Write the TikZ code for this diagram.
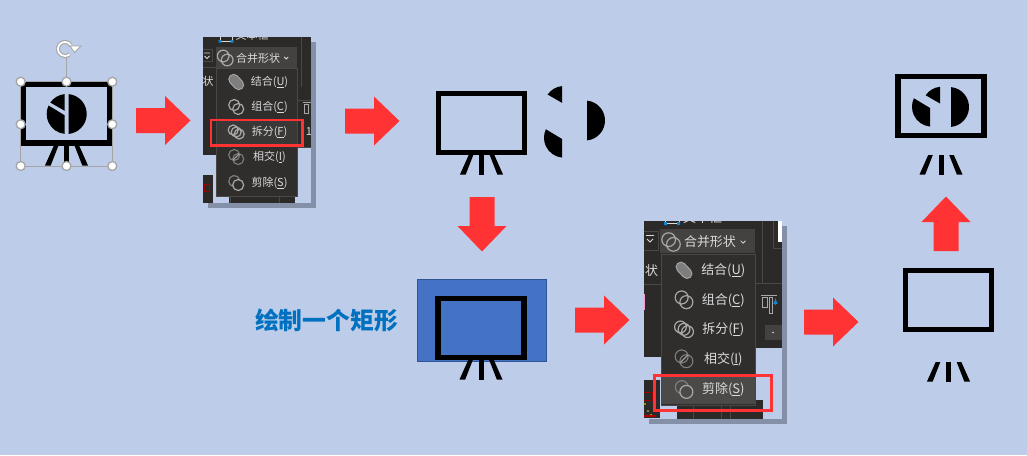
\documentclass[tikz,border=0pt]{standalone}
\usepackage{fontspec}
\usepackage{xcolor}
\newfontfamily\cjkfont{Noto Sans CJK SC}
\definecolor{slideblue}{HTML}{BDCDE9}
\definecolor{shadowgray}{HTML}{848FA8}
\definecolor{arrowred}{HTML}{FF3333}
\definecolor{shapeblue}{HTML}{4472C4}
\definecolor{shapeline}{HTML}{2F5597}
\definecolor{titleblue}{HTML}{0070C0}
\definecolor{uidark}{HTML}{2C2A29}
\definecolor{uipanel}{HTML}{302E2D}
\definecolor{uiedge}{HTML}{4A4846}
\definecolor{uihead}{HTML}{444241}
\definecolor{uirowa}{HTML}{3A3837}
\definecolor{uirowb}{HTML}{4C4A49}
\definecolor{uitext}{HTML}{DADADA}
\definecolor{uiicon}{HTML}{A8A8A8}
\definecolor{uidim}{HTML}{7E7E7E}
\definecolor{handlegray}{HTML}{A5A5A5}

\begin{document}
\begin{tikzpicture}[
  x=1pt, y=-1pt,
  every node/.style={inner sep=0pt, outer sep=0pt},
  menutext/.style={font=\cjkfont\fontsize{11}{11}\selectfont, text=uitext},
  sidetext/.style={menutext, anchor=east},
  titletext/.style={font=\cjkfont\bfseries\fontsize{23.8}{24}\selectfont, text=titleblue},
  handle/.style={circle, draw=handlegray, fill=white, line width=1.3pt, minimum size=9pt},
  redbox/.style={draw=arrowred, line width=2.5pt},
  ring/.style={draw=uiicon, line width=1.2pt},
  uiline/.style={draw=uiedge, line width=0.8pt},
  pics/easelframe/.style={code={
    \draw[line width=5.3pt] (-43,2.65) rectangle (43,61.4);
  }},
  pics/easellegs/.style={code={
    \fill (-2.5,0) rectangle (2.5,19.5);
    \fill (-12.8,0) -- (-8.2,0) -- (-15.8,19.5) -- (-21.5,19.5) -- cycle;
    \fill (12.8,0) -- (8.2,0) -- (15.8,19.5) -- (21.5,19.5) -- cycle;
  }},
  pics/pieright/.style={code={
    \fill (2,-19.9) arc[start angle=84.3, end angle=-84.3, radius=20pt] -- cycle;
  }},
  pics/pietop/.style={code={
    \fill (-2,-3.2) -- (-2,-19.9) arc[start angle=95.7, end angle=145, radius=20pt] -- cycle;
  }},
  pics/piebottom/.style={code={
    \fill (-2,1.3) -- (-2,19.9) arc[start angle=264.3, end angle=155, radius=20pt] -- cycle;
  }},
  pics/redarrow/.style={code={
    \fill[arrowred] (0,-12.5) -- (29,-12.5) -- (29,-24.5) -- (54.5,0) -- (29,24.5) -- (29,12.5) -- (0,12.5) -- cycle;
  }},
  pics/shapemenu/.style 2 args={code={
    \fill[uihead] (-1,-11.3) rectangle (80,9.5);
    \draw[ring] (6.5,-2) circle[radius=5.8pt] (10.5,2) circle[radius=5.8pt];
    \node[menutext] (head) at (41.5,0) {合并形状};
    \draw[uitext, line width=0.8pt] (67.5,-1) -- (69.5,1) -- (71.5,-1);
    \filldraw[fill=uipanel, draw=uiedge, line width=0.6pt] (0,10) rectangle (80.3,138.7);
    \fill[#2] (0.5,#1-12) rectangle (79.8,#1+12.5);
    \foreach \rowy/\rowname in {24/结合(\underline{U}), 49/组合(\underline{C}), 74/拆分(\underline{F}), 99/相交(\underline{I}), 125/剪除(\underline{S})}
      \node[menutext] at (52.8,\rowy) {\rowname};
    % join
    \draw[uiicon, line width=10.8pt, line cap=round] (16.9,21.2) -- (22.1,26.8);
    \draw[uidim, line width=8.6pt, line cap=round] (16.9,21.2) -- (22.1,26.8);
    % combine
    \draw[ring] (17.5,47) circle[radius=5.5pt] (21.5,51) circle[radius=5.5pt];
    % fragment
    \draw[ring] (16.5,72) circle[radius=5pt] (19.5,74) circle[radius=5pt] (22.5,76) circle[radius=5pt];
    % intersect
    \draw[draw=uidim, line width=1.1pt] (17.5,97) circle[radius=5.5pt] (21.5,101) circle[radius=5.5pt];
    \draw[uiicon, line width=1.1pt] (16.5,102) -- (22.5,96);
    % subtract
    \draw[draw=uidim, line width=1.2pt] (23,122.1) arc[start angle=9.6, end angle=254.4, radius=5.5pt];
    \draw[ring] (21.5,127) circle[radius=5.5pt];
  }}
]
  \useasboundingbox (0,0) rectangle (1027,455);
  \fill[slideblue] (0,0) rectangle (1027,455);

  % selected icon
  \pic at (66.5,81.7) {easelframe};
  \pic at (66.5,146) {easellegs};
  \pic at (66.7,114) {pieright};
  \pic at (66.7,114) {pietop};
  \pic at (66.7,114) {piebottom};
  \draw[draw=handlegray, line width=0.8pt] (20.7,81.7) rectangle (112.3,166);
  \coordinate (rotbase) at (66.5,58);
  \node[handle] (htop) at (66.5,81.7) {};
  \draw[draw=handlegray, line width=0.8pt] (rotbase) -- (htop);
  \foreach \hname/\hx/\hy in {hnw/20.7/81.7, hne/112.3/81.7, hw/20.7/124.3, he/112.3/124.3, hsw/20.7/166, hs/66.5/166, hse/112.3/166}
    \node[handle] (\hname) at (\hx,\hy) {};
  \draw[handlegray, line width=4pt] (71,45.5) arc[start angle=30, end angle=310, radius=7pt];
  \draw[white, line width=1.8pt] (71,45.5) arc[start angle=30, end angle=310, radius=7pt];
  \filldraw[fill=white, draw=handlegray, line width=0.8pt] (70,46) -- (81,46) -- (74.5,52.5) -- cycle;

  \pic at (136,120.5) {redarrow};

  % first menu
  \fill[shadowgray] (208,42) rectangle (316,208);
  \fill[slideblue] (203,37) rectangle (311,203);
  \begin{scope}
    \clip (203,37) rectangle (311,203);
    \fill[uidark] (203,37) rectangle (311,147);
    \fill[uidark] (203,147) rectangle (216,155);
    \fill[uidark] (203,175) rectangle (213,203);
    \fill[uidark] (229,190) rectangle (295,203);
    \draw[red!60!black, line width=0.6pt] (204,184) rectangle (209,191);
    \draw[uiline] (301.7,37) -- (301.7,87);
    \draw[uiline] (297,100.7) -- (311,100.7);
    \draw[uiline] (203,67.5) -- (216,67.5);
    \draw[uiline] (296,147) -- (311,147);
    \draw[draw=uiicon, line width=0.8pt] (303,102.5) -- (311,102.5) (304,104.5) rectangle (308,113);
    \draw[uiline] (203,49) -- (212,49) -- (212,61) -- (203,61);
    \draw[uitext, line width=0.8pt] (204,53) -- (210,53) (204.5,56) -- (207,58.5) -- (209.5,56);
    \draw[draw=uitext, line width=0.8pt] (220,36) rectangle (232,41.5);
    \fill[cyan!70!blue] (218.5,40) rectangle (221.5,42.5) (230.5,40) rectangle (233.5,42.5);
    \node[menutext] (textboxa) at (252,35.5) {文本框};
    \node[sidetext] (sidea) at (213.5,81) {形状};
    \node[menutext] (onea) at (309,132) {1};
    \draw[uiline] (230,197) -- (230,203) (279,197) -- (279,203);
  \end{scope}
  \pic[transform shape] (menua) at (216.7,58) {shapemenu={74}{uirowa}};
  \draw[redbox] (211,120) rectangle (302.5,145.5);

  \pic at (345,121) {redarrow};

  % pulled apart
  \pic at (481.5,91) {easelframe};
  \pic at (481.5,155) {easellegs};
  \pic at (564,106) {pietop};
  \pic at (564,137.7) {piebottom};
  \pic at (585,120.5) {pieright};

  \pic[rotate=-90] at (482,197) {redarrow};

  % drawn rectangle
  \node[titletext] (title) at (326.5,320.5) {绘制一个矩形};
  \filldraw[fill=shapeblue, draw=shapeline, line width=0.7pt] (417.5,279.5) rectangle (546.5,361);
  \pic at (481,296) {easelframe};
  \pic at (481,360) {easellegs};

  \pic at (575,320) {redarrow};

  % second menu
  \fill[shadowgray] (649,226) rectangle (787,424);
  \fill[slideblue] (644,221) rectangle (782,419);
  \begin{scope}
    \clip (644,221) rectangle (782,419);
    \fill[uidark] (644,221) rectangle (782,348);
    \fill[uidark] (644,348) rectangle (661,357);
    \fill[uidark] (644,380) rectangle (660,418);
    \fill[uidark] (677,400) rectangle (763,419);
    \fill[white] (777.7,221) rectangle (782,242);
    \fill[magenta!40] (644,294) rectangle (645.3,310);
    \draw[red!60!black, line width=0.7pt] (644,392) -- (652,392) -- (652,400) -- (644,400);
    \fill[yellow!70!orange] (645,404) circle[radius=0.8pt] (648,411) circle[radius=0.8pt] (651,415) circle[radius=1pt];
    \fill[red!70!black] (644,415) rectangle (656,417);
    \draw[uiline] (762,221) -- (762,284);
    \draw[uiline] (756,283.5) -- (782,283.5);
    \draw[uiline] (773,221) -- (773,248) -- (782,248);
    \draw[uiline] (644,231) -- (658,231) -- (658,250.5) -- (644,250.5);
    \draw[uitext, line width=0.9pt] (646,235.5) -- (654,235.5) (647,239) -- (650,242) -- (653,239);
    \draw[uiline] (644,284) -- (661,284);
    \fill[uihead] (765,325) rectangle (782,340);
    \fill[uitext] (773,332.5) circle[radius=0.8pt];
    \draw[draw=uiicon, line width=1pt] (761,295) -- (777,295) (762.5,297.5) rectangle (767.5,307) (769.5,297.5) rectangle (772.5,313);
    \draw[-latex, cyan!70!blue, line width=1pt] (775.5,305) -- (775.5,298);
    \draw[draw=uitext, line width=0.9pt] (665,217) rectangle (679,223);
    \fill[cyan!70!blue] (664,222) rectangle (667,225) (677,222) rectangle (680,225);
    \node[menutext, scale=1.18] (textboxb) at (702.5,217.5) {文本框};
    \node[sidetext, scale=1.18] (sideb) at (658,271) {形状};
    \draw[uiline] (693,400) -- (693,419) (721,400) -- (721,419) (730,400) -- (730,419);
  \end{scope}
  \pic[transform shape, scale=1.18] (menub) at (661,242) {shapemenu={125}{uirowb}};
  \draw[redbox] (654.5,375.5) rectangle (771.5,410.5);

  \pic at (804,322) {redarrow};

  % after subtract
  \pic at (948.5,268) {easelframe};
  \pic at (948.5,362) {easellegs};

  \pic[rotate=90] at (946,251) {redarrow};

  % result
  \pic at (941,74) {easelframe};
  \pic at (941,155) {easellegs};
  \pic at (942,106.7) {pietop};
  \pic at (932,106.7) {piebottom};
  \pic at (949,107) {pieright};
\end{tikzpicture}
\end{document}
